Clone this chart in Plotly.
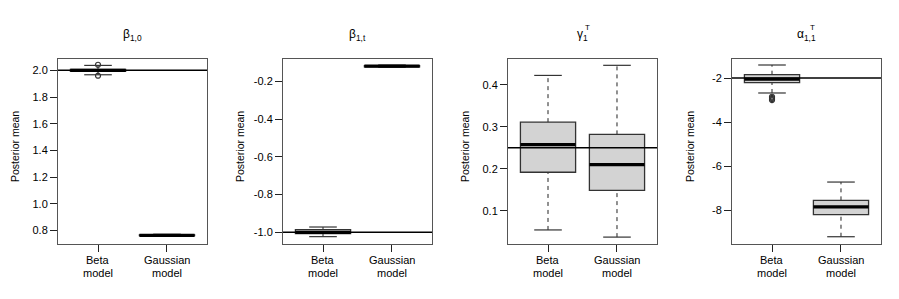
import plotly.graph_objects as go

# ---------------- data ----------------
titles = ["β<sub>1,0</sub>", "β<sub>1,t</sub>", "γ<sub>1</sub>", "α<sub>1,1</sub>"]
title_sup = ["", "", "T", "T"]
model_line1 = ["Beta", "Gaussian"]
model_line2 = ["model", "model"]
model_pos = [1, 2]

lower_whisker = [[1.967, 0.758], [-1.023, -0.126], [0.055, 0.038], [-2.68, -9.20]]
q1 = [[1.992, 0.762], [-1.007, -0.123], [0.192, 0.149], [-2.21, -8.20]]
median = [[2.000, 0.765], [-1.000, -0.120], [0.2575, 0.210], [-2.05, -7.85]]
q3 = [[2.008, 0.768], [-0.986, -0.117], [0.311, 0.282], [-1.85, -7.55]]
upper_whisker = [[2.037, 0.773], [-0.972, -0.114], [0.422, 0.446], [-1.41, -6.72]]
outliers = [
    [[2.042, 1.960], []],
    [[], []],
    [[], []],
    [[-2.85, -2.90, -2.95, -3.00], []],
]
true_values = [2.0, -1.0, 0.25, -2.0]

ytick_vals = [
    [0.8, 1.0, 1.2, 1.4, 1.6, 1.8, 2.0],
    [-1.0, -0.8, -0.6, -0.4, -0.2],
    [0.1, 0.2, 0.3, 0.4],
    [-8, -6, -4, -2],
]
ytick_text = [
    ["0.8", "1.0", "1.2", "1.4", "1.6", "1.8", "2.0"],
    ["-1.0", "-0.8", "-0.6", "-0.4", "-0.2"],
    ["0.1", "0.2", "0.3", "0.4"],
    ["-8", "-6", "-4", "-2"],
]
y_ranges = [[0.700, 2.085], [-1.062, -0.082], [0.0216, 0.461], [-9.53, -1.138]]
x_range = [0.42, 2.58]

# ---------------- layout ----------------
W, H = 899, 299
plot_left = [50, 275, 500, 724]
plot_w = 149
top_px, bottom_px = 51, 236
font_family = "Liberation Sans, Arial, Helvetica, sans-serif"
box_col = "#333333"
frame_col = "#555555"
fill_col = "#D3D3D3"

fig = go.Figure()
shapes = []
annotations = []

for i in range(4):
    xa = "x" if i == 0 else f"x{i+1}"
    ya = "y" if i == 0 else f"y{i+1}"
    # outliers
    ox, oy = [], []
    for j in range(2):
        for v in outliers[i][j]:
            ox.append(model_pos[j])
            oy.append(v)
    fig.add_trace(go.Scatter(
        x=ox, y=oy, mode="markers", xaxis=xa, yaxis=ya, showlegend=False,
        marker=dict(symbol="circle-open", size=5, color=box_col, line=dict(width=1.2, color=box_col)),
        hoverinfo="skip"))

    for j in range(2):
        p = model_pos[j]
        # whiskers (dashed)
        shapes.append(dict(type="line", xref=xa, yref=ya, x0=p, x1=p,
                           y0=q3[i][j], y1=upper_whisker[i][j],
                           line=dict(color="#222222", width=1, dash="4px,4px")))
        shapes.append(dict(type="line", xref=xa, yref=ya, x0=p, x1=p,
                           y0=lower_whisker[i][j], y1=q1[i][j],
                           line=dict(color="#222222", width=1, dash="4px,4px")))
        # caps
        for v in (upper_whisker[i][j], lower_whisker[i][j]):
            shapes.append(dict(type="line", xref=xa, yref=ya, x0=p - 0.2, x1=p + 0.2,
                               y0=v, y1=v, line=dict(color=box_col, width=1.2)))
        # box
        shapes.append(dict(type="rect", xref=xa, yref=ya, x0=p - 0.4, x1=p + 0.4,
                           y0=q1[i][j], y1=q3[i][j], fillcolor=fill_col,
                           line=dict(color=box_col, width=1.3)))
        # median
        shapes.append(dict(type="line", xref=xa, yref=ya, x0=p - 0.4, x1=p + 0.4,
                           y0=median[i][j], y1=median[i][j],
                           line=dict(color="black", width=3.2)))
        # x tick labels (two lines, R-like spacing)
        for txt, ypx in ((model_line1[j], 252), (model_line2[j], 265)):
            annotations.append(dict(text=txt, xref=xa, yref="paper", x=p, y=(H - ypx) / H,
                                    xanchor="center", yanchor="middle", showarrow=False,
                                    font=dict(size=11, color="black", family=font_family)))
    # reference line
    shapes.append(dict(type="line", xref=f"{xa} domain", yref=ya, x0=0, x1=1,
                       y0=true_values[i], y1=true_values[i],
                       line=dict(color="black", width=1.5)))

    x0 = plot_left[i] / W
    x1 = (plot_left[i] + plot_w) / W
    axis_common = dict(showline=True, mirror=True, linecolor=frame_col, linewidth=1,
                       showgrid=False, zeroline=False, ticks="outside", ticklen=7,
                       tickcolor="#222222", tickfont=dict(size=11, color="black", family=font_family))
    fig.layout[("xaxis" if i == 0 else f"xaxis{i+1}")] = dict(
        domain=[x0, x1], range=x_range, anchor=ya, tickvals=model_pos,
        showticklabels=False, fixedrange=True, **axis_common)
    fig.layout[("yaxis" if i == 0 else f"yaxis{i+1}")] = dict(
        domain=[(H - bottom_px) / H, (H - top_px) / H], range=y_ranges[i], anchor=xa,
        tickvals=ytick_vals[i], ticktext=ytick_text[i], fixedrange=True, **axis_common)

    cx = (plot_left[i] + plot_w / 2) / W
    annotations.append(dict(text=titles[i], xref="paper", yref="paper", x=cx, y=(H - 27) / H,
                            xanchor="center", yanchor="middle", showarrow=False,
                            font=dict(size=12, color="black", family=font_family)))
    if title_sup[i]:
        off = 0.5 if i == 2 else 1.5
        annotations.append(dict(text=title_sup[i], xref="paper", yref="paper",
                                x=(plot_left[i] + plot_w / 2 + off) / W, y=(H - 20) / H,
                                xanchor="left", yanchor="middle", showarrow=False,
                                font=dict(size=8, color="black", family=font_family)))
    annotations.append(dict(text="Posterior mean", xref="paper", yref="paper",
                            x=(7 + 225 * i) / W, y=(H - 139) / H, textangle=-90,
                            xanchor="center", yanchor="middle", showarrow=False,
                            font=dict(size=10.5, color="black", family=font_family)))

fig.update_layout(width=W, height=H, margin=dict(l=0, r=0, t=0, b=0),
                  paper_bgcolor="white", plot_bgcolor="white",
                  shapes=shapes, annotations=annotations,
                  font=dict(family=font_family, color="black"))

fig.write_html("out.html")
